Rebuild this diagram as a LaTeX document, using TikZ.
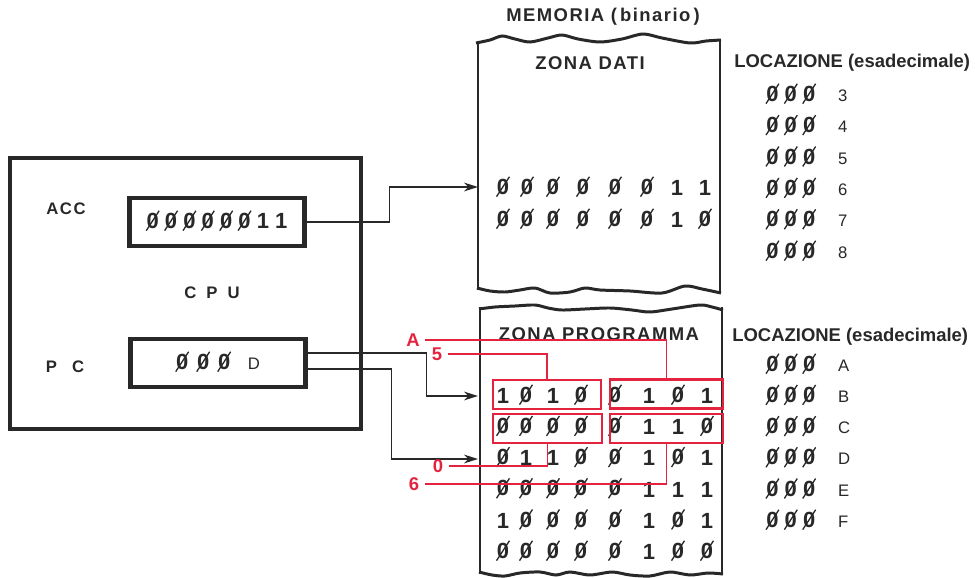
\documentclass[tikz,border=0pt]{standalone}
\usepackage{fontspec}
\setmainfont{Liberation Sans}
\newfontfamily\capsfont[LetterSpace=8]{Liberation Sans}
\usepackage{graphicx}
\usepackage{xcolor}
\usetikzlibrary{positioning,arrows.meta,calc}

\definecolor{ink}{RGB}{40,40,40}
\definecolor{annot}{RGB}{228,36,62}

% zero with a slash, as printed on the page
\newcommand{\zs}{\ooalign{0\cr\hidewidth\raisebox{-0.12em}{\rotatebox{57}{\rule{1.08em}{0.06em}}}\hidewidth\cr}}
\newcommand{\bit}[1]{\ifnum#1=0 \zs\else 1\fi}
\newcommand{\gp}{\hspace{3.5pt}}
\newcommand{\hexfont}{\mdseries\fontsize{9.5}{10}\selectfont}

\begin{document}
\begin{tikzpicture}[x=0.02cm, y=-0.02cm, >=Stealth,
    frame/.style={draw=ink, line width=2.1pt},
    edge/.style={draw=ink, line width=1.7pt},
    reg/.style={draw=ink, line width=2.3pt, minimum width=3.5cm, minimum height=0.97cm, inner sep=0pt, text=ink, font=\bfseries\fontsize{12.5}{14}\selectfont},
    wire/.style={draw=ink, line width=1.1pt, -{Stealth[length=8pt,width=5pt]}},
    lbl/.style={text=ink, font=\bfseries\fontsize{9.5}{11}\selectfont},
    zonehead/.style={text=ink, font=\capsfont\bfseries\fontsize{10.5}{12}\selectfont},
    lochead/.style={text=ink, anchor=west, inner sep=0pt, font=\bfseries\fontsize{10.5}{12}\selectfont},
    bitc/.style={text=ink, inner sep=0pt, font=\bfseries\fontsize{12.5}{14}\selectfont},
    locc/.style={text=ink, anchor=west, inner sep=0pt, font=\bfseries\fontsize{12.5}{14}\selectfont},
    hlbox/.style={draw=annot, line width=1.3pt, inner sep=0pt, minimum height=0.58cm},
    redtag/.style={text=annot, inner sep=3pt, font=\bfseries\fontsize{10.5}{12}\selectfont},
    lead/.style={draw=annot, line width=0.9pt}]
    \useasboundingbox (0,0) rectangle (975,578);

    % CPU
    \draw[frame] (10,158) rectangle (361,429);
    \node[lbl] (acc) at (66,209) {\addfontfeature{LetterSpace=10}ACC};
    \node[lbl] (cpu) at (212,293) {C\hspace{.6em}P\hspace{.6em}U};
    \node[lbl] (pc) at (65,367) {P\hspace{.9em}C};
    \node[reg] (accreg) at (217,222) {\zs\gp\zs\gp\zs\gp\zs\gp\zs\gp\zs\gp1\gp1};
    \node[reg, minimum height=0.96cm] (pcreg) at (218,363) {\zs\hspace{5pt}\zs\hspace{5pt}\zs\hspace{10pt}{\hexfont D}\hspace{9pt}};

    % memory, data zone
    \node[zonehead] (mem) at (603,17) {MEMORIA (\,binario\,)};
    \draw[edge] plot[smooth] coordinates {(476,43) (490,40) (502,36) (515,39) (530,42) (548,38) (562,35) (578,39) (600,42) (622,39) (643,34) (662,38) (690,43) (706,41) (721,40)};
    \draw[edge] (478,42) -- (478,290);
    \draw[edge] (720,39) -- (720,292);
    \draw[edge] plot[smooth] coordinates {(477,288) (490,291) (505,292) (520,290) (535,288) (550,293) (570,292) (585,288) (600,290) (630,291) (662,293) (685,286) (702,289) (721,293)};
    \node[zonehead] (zdati) at (590,63) {ZONA DATI};
    \foreach \bits [count=\r] in {{0,0,0,0,0,0,1,1},{0,0,0,0,0,0,1,0}}
        \foreach \b [count=\c] in \bits {
            \pgfmathsetmacro{\xx}{{503,527,553,583,615,647,677,705}[\c-1]}
            \node[bitc] (d\r\c) at (\xx,{188+(\r-1)*32}) {\bit{\b}};
        }

    % memory, program zone
    \draw[edge] plot[smooth] coordinates {(479,309) (495,307) (515,306) (535,305) (548,308) (562,310) (585,309) (610,308) (632,310) (650,312) (672,309) (700,305) (712,307) (723,310)};
    \draw[edge] (480,307) -- (480,574);
    \draw[edge] (722,307) -- (722,575);
    \draw[edge] plot[smooth] coordinates {(479,572) (492,575) (505,576) (520,573) (540,572) (556,575) (570,572) (590,575) (612,572) (630,575) (650,576) (670,572) (690,575) (708,573) (723,574)};
    \node[zonehead] (zprog) at (599,334) {ZONA PROGRAMMA};
    \foreach \bits [count=\r] in {{1,0,1,0,0,1,0,1},{0,0,0,0,0,1,1,0},{0,1,1,0,0,1,0,1},{0,0,0,0,0,1,1,1},{1,0,0,0,0,1,0,1},{0,0,0,0,0,1,0,0}}
        \foreach \b [count=\c] in \bits {
            \pgfmathsetmacro{\xx}{{503,526,553,581,615,649,678,707}[\c-1]}
            \node[bitc] (p\r\c) at (\xx,{396+(\r-1)*31.2}) {\bit{\b}};
        }

    % locations
    \node[lochead] (locdati) at (734,63) {LOCAZIONE (esadecimale)};
    \foreach \h [count=\i] in {3,4,5,6,7,8}
        \node[locc] (loc\h) at (766,{95+(\i-1)*31.4}) {\zs\gp\zs\gp\zs\hspace{13pt}{\hexfont\h}};
    \node[lochead] (locprog) at (732,337) {LOCAZIONE (esadecimale)};
    \foreach \h [count=\i] in {A,B,C,D,E,F}
        \node[locc] (loc\h) at (766,{365+(\i-1)*31.2}) {\zs\gp\zs\gp\zs\hspace{13pt}{\hexfont\h}};

    % connections
    \coordinate (tip6) at (478,187);
    \coordinate (tipB) at (478,396);
    \coordinate (tipD) at (478,459);
    \draw[wire] (accreg.east) -- ++(83,0) |- (tip6);
    \draw[wire] ($(pcreg.east)+(0,-10)$) -- ++(119,0) |- (tipB);
    \draw[wire] ($(pcreg.east)+(0,6)$) -- ++(84,0) |- (tipD);

    % instruction fields in red
    \node[hlbox, minimum width=2.16cm] (hlB1) at (547,394.5) {};
    \node[hlbox, minimum width=2.26cm] (hlB2) at (666.5,394) {};
    \node[hlbox, minimum width=2.18cm] (hlC1) at (547.5,428.5) {};
    \node[hlbox, minimum width=2.26cm] (hlC2) at (666.5,428.5) {};
    \node[redtag] (tagA) at (413,340) {A};
    \node[redtag] (tag5) at (437,354) {5};
    \node[redtag] (tag0) at (438,466) {0};
    \node[redtag] (tag6) at (414,484) {6};
    \draw[lead] (tagA.east) -| (hlB2.north);
    \draw[lead] (tag5.east) -| (hlB1.north);
    \draw[lead] (tag0.east) -| (hlC1.south);
    \draw[lead] (tag6.east) -| (hlC2.south);
\end{tikzpicture}
\end{document}
